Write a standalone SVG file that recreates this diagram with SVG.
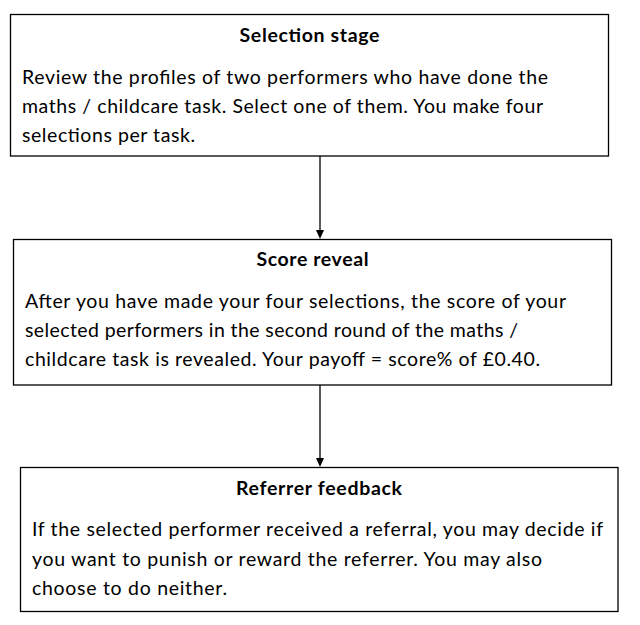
<svg xmlns="http://www.w3.org/2000/svg" width="640" height="625" viewBox="0 0 640 625">
<style>
.box{fill:#fff;stroke:#000;stroke-width:1.3}
.t{font-family:Lato,"Liberation Sans",sans-serif;font-size:19.5px;fill:#000}
.h{font-weight:bold;text-anchor:middle}
.conn{stroke:#000;stroke-width:1.3;fill:none}
.head{fill:#000;stroke:none}
</style>
<rect width="640" height="625" fill="#fff"/>
<g id="selection-stage">
<rect class="box" x="10.5" y="14.5" width="598" height="141.5"/>
<text class="t h" x="309.5" y="42" textLength="140">Selection stage</text>
<text class="t" x="22" y="84" textLength="526">Review the profiles of two performers who have done the</text>
<text class="t" x="22" y="113" textLength="521">maths / childcare task. Select one of them. You make four</text>
<text class="t" x="22" y="142" textLength="173">selections per task.</text>
</g>
<g id="score-reveal">
<rect class="box" x="13.5" y="239.5" width="598" height="145.5"/>
<text class="t h" x="312.5" y="266" textLength="112">Score reveal</text>
<text class="t" x="25" y="308" textLength="541">After you have made your four selections, the score of your</text>
<text class="t" x="25" y="337" textLength="493">selected performers in the second round of the maths /</text>
<text class="t" x="25" y="366" textLength="515">childcare task is revealed. Your payoff = score% of £0.40.</text>
</g>
<g id="referrer-feedback">
<rect class="box" x="20.5" y="467.5" width="597.5" height="144"/>
<text class="t h" x="319" y="495" textLength="166">Referrer feedback</text>
<text class="t" x="32" y="536" textLength="571">If the selected performer received a referral, you may decide if</text>
<text class="t" x="32" y="566" textLength="510">you want to punish or reward the referrer. You may also</text>
<text class="t" x="32" y="595" textLength="195">choose to do neither.</text>
</g>
<g id="connectors">
<line class="conn" x1="320" y1="156" x2="320" y2="231"/>
<path class="head" d="M316,230 L324,230 L320,239 Z"/>
<line class="conn" x1="320" y1="385" x2="320" y2="459"/>
<path class="head" d="M316,458 L324,458 L320,467 Z"/>
</g>
</svg>
